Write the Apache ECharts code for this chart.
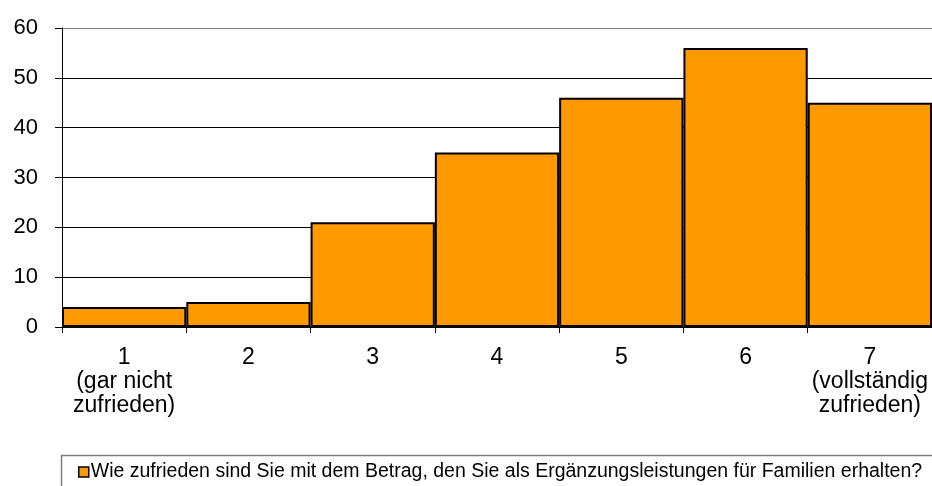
<!DOCTYPE html>
<html><head><meta charset="utf-8">
<script src="https://cdn.jsdelivr.net/npm/echarts@6/dist/echarts.min.js"></script>
<style>html,body{margin:0;padding:0;background:#fff}#c{width:932px;height:486px}</style>
</head><body><div id="c"></div>
<script>
var categories = ['1\n(gar nicht\nzufrieden)', '2', '3', '4', '5', '6', '7\n(vollständig\nzufrieden)'];
var values = [4, 5, 21, 35, 46, 56, 45];
var seriesName = 'Wie zufrieden sind Sie mit dem Betrag, den Sie als Ergänzungsleistungen für Familien erhalten?';
var yMin = 0, yMax = 60, yStep = 10;

var chart = echarts.init(document.getElementById('c'), null, {renderer: 'canvas'});
chart.setOption({
  animation: false,
  textStyle: {fontFamily: 'Liberation Sans, Arial, sans-serif'},
  grid: {left: 62, right: 0, top: 28, bottom: 159, containLabel: false},
  graphic: [{
    type: 'rect', left: 59, top: 453, silent: true,
    shape: {width: 900, height: 60},
    style: {fill: 'none', stroke: '#7f7f7f', lineWidth: 1.5}
  }],
  legend: {
    left: 73, top: 457, itemWidth: 10, itemHeight: 10, itemGap: 4,
    icon: 'rect',
    textStyle: {fontSize: 19.5, color: '#000', fontFamily: 'Liberation Sans, Arial, sans-serif', padding: [0, 0, 0, -3]},
    data: [{name: seriesName, itemStyle: {color: '#FF9900', borderColor: '#000', borderWidth: 1.5}}]
  },
  xAxis: {
    type: 'category', data: categories, boundaryGap: true,
    axisLine: {lineStyle: {color: '#000', width: 1}},
    axisTick: {show: true, length: 6, lineStyle: {color: '#000'}},
    axisLabel: {fontSize: 23, color: '#000', lineHeight: 24, margin: 19, interval: 0}
  },
  yAxis: {
    type: 'value', min: yMin, max: yMax, interval: yStep,
    axisLine: {show: true, lineStyle: {color: '#000', width: 1}},
    axisTick: {show: true, length: 7, lineStyle: {color: '#000'}},
    axisLabel: {fontSize: 22, color: '#000', margin: 24},
    splitLine: {lineStyle: {color: ['#000', '#000', '#000', '#000', '#000', '#000', '#808080'], width: 1}}
  },
  series: [{
    name: seriesName, type: 'bar', data: values,
    barCategoryGap: '0%',
    itemStyle: {color: '#FF9900', borderColor: '#000', borderWidth: 2}
  }]
});
</script></body></html>
